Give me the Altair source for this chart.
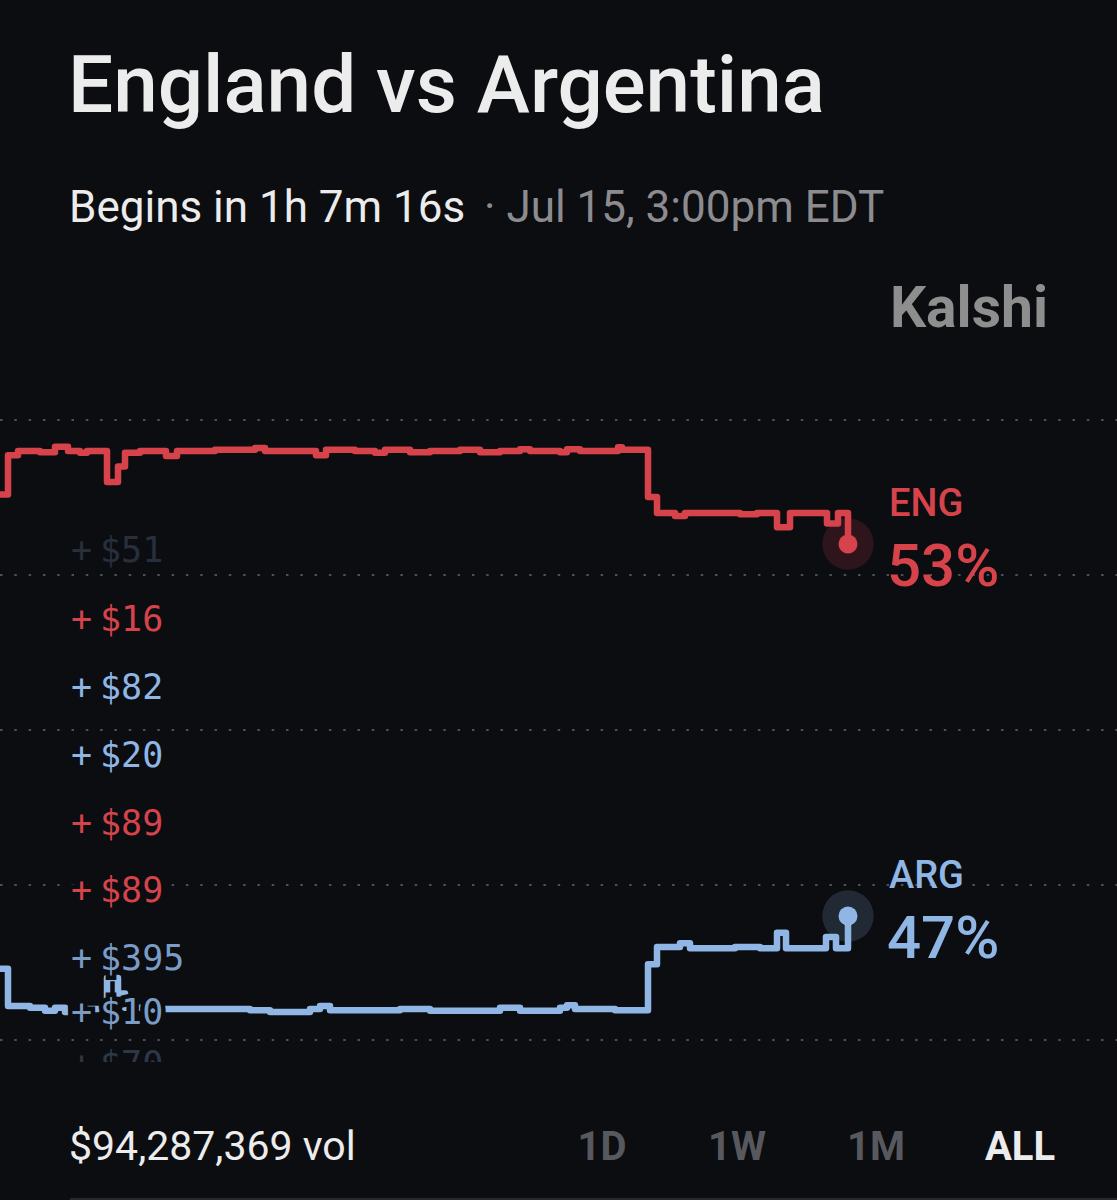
import altair as alt
import pandas as pd

# ---------------------------------------------------------------- data
teams = ["ENG", "ARG"]

# hours since the market opened -> implied win probability (%)
eng_hours = [0, 8, 18, 40, 55, 68, 80, 87, 107, 118, 125, 140, 166, 177, 215,
             255, 265, 305, 316, 326, 355, 375, 385, 410, 430, 460, 480, 500,
             520, 530, 560, 567, 580, 618, 622, 648, 657, 675, 685, 740, 757,
             777, 790, 827, 838, 848]
eng_pct = [53.8, 54.43, 54.5, 54.48, 54.57, 54.5, 54.47, 54.5, 54.0, 54.25,
           54.47, 54.5, 54.42, 54.5, 54.52, 54.55, 54.5, 54.5, 54.43, 54.52,
           54.5, 54.47, 54.52, 54.48, 54.5, 54.52, 54.48, 54.5, 54.53, 54.5,
           54.48, 54.53, 54.5, 54.56, 54.52, 53.76, 53.5, 53.45, 53.5, 53.48,
           53.5, 53.27, 53.5, 53.33, 53.5, 53.0]

arg_hours = [0, 8, 30, 45, 55, 65, 80, 107, 118, 125, 160, 250, 270, 310, 320,
             330, 400, 430, 500, 520, 560, 567, 575, 615, 648, 657, 680, 690,
             735, 760, 777, 786, 826, 836, 848]
arg_pct = [46.15, 45.55, 45.52, 45.47, 45.52, 45.45, 45.5, 46.0, 45.75, 45.52,
           45.5, 45.48, 45.45, 45.5, 45.55, 45.48, 45.5, 45.47, 45.52, 45.47,
           45.52, 45.56, 45.5, 45.48, 46.22, 46.5, 46.56, 46.48, 46.5, 46.48,
           46.73, 46.48, 46.66, 46.48, 47.0]

grid_levels = [45.0, 47.5, 50.0, 52.5, 55.0]

# recent trades ticker
ticker_amounts = ["$51", "$16", "$82", "$20", "$89", "$89", "$395", "$10", "$70"]
ticker_sides = ["ARG", "ENG", "ARG", "ARG", "ENG", "ENG", "ARG", "ARG", "ARG"]

title = "England vs Argentina"
countdown = "Begins in 1h 7m 16s"
kickoff = "· Jul 15, 3:00pm EDT"
brand = "Kalshi"
volume = 94287369
ranges = ["1D", "1W", "1M", "ALL"]
active_range = "ALL"

# ---------------------------------------------------------------- style / layout
BG = "#0c0d11"
RED = "#d6434b"
BLUE = "#8fb6e4"
GRID = "#4d5157"
WHITE = "#ececec"
GREY = "#8c8c90"
DIM = "#58595e"
SANS = "Roboto, sans-serif"
MONO = "DejaVu Sans Mono, monospace"

PLOT_W, PLOT_H = 848, 620
TOP, LEFT, FULL_W, FULL_H = 420, 0, 1117, 1200


def py(page_y):
    """page pixel row -> plot-area pixel row"""
    return page_y - TOP


ticker_row_y = [551, 620, 688, 756, 824, 891, 959, 1013, 1065]
ticker_fade = [0.2, 1, 1, 1, 1, 1, 0.85, 0.85, 0.25]
range_x = [602, 737, 876, 1020]

# ---------------------------------------------------------------- frames
series = pd.concat([
    pd.DataFrame({"team": "ENG", "hours": eng_hours, "pct": eng_pct}),
    pd.DataFrame({"team": "ARG", "hours": arg_hours, "pct": arg_pct}),
], ignore_index=True)

last = pd.DataFrame({
    "team": teams,
    "hours": [eng_hours[-1], arg_hours[-1]],
    "pct": [eng_pct[-1], arg_pct[-1]],
})
last["label"] = last["pct"].round().astype(int).astype(str) + "%"

grid = pd.DataFrame({"pct": grid_levels})

x_enc = alt.X("hours:Q", axis=None,
              scale=alt.Scale(domain=[eng_hours[0], eng_hours[-1]], nice=False, zero=False))
y_scale = alt.Scale(domain=[grid_levels[0], grid_levels[-1]], nice=False, zero=False)
y_enc = alt.Y("pct:Q", axis=None, scale=y_scale)
color_enc = alt.Color("team:N", legend=None,
                      scale=alt.Scale(domain=teams, range=[RED, BLUE]))

# ---------------------------------------------------------------- layers
gridlines = alt.Chart(grid).mark_rule(
    strokeDash=[2.5, 11.8], strokeWidth=2.2, color=GRID
).encode(y=y_enc, x=alt.value(0), x2=alt.value(FULL_W))

lines = alt.Chart(series).mark_line(
    interpolate="step-after", strokeWidth=6.5, strokeJoin="round", strokeCap="round"
).encode(x=x_enc, y=y_enc, color=color_enc, detail="team:N")

halo = alt.Chart(last).mark_circle(size=2640, opacity=0.17).encode(
    x=x_enc, y=y_enc, color=color_enc)
dots = alt.Chart(last).mark_circle(size=360, opacity=1).encode(
    x=x_enc, y=y_enc, color=color_enc)

end_code = alt.Chart(last).mark_text(
    font=SANS, fontSize=38, fontWeight=500, align="left", baseline="alphabetic", dy=-28
).encode(x=alt.value(889), y=y_enc, text="team:N", color=color_enc)
end_pct = alt.Chart(last).mark_text(
    font=SANS, fontSize=60, fontWeight=500, align="left", baseline="alphabetic", dy=42
).encode(x=alt.value(887), y=y_enc, text="label:N", color=color_enc)


def label(text, x, page_y, **kw):
    return alt.Chart(pd.DataFrame({"text": [text]})).mark_text(
        baseline="alphabetic", **kw
    ).encode(x=alt.value(x), y=alt.value(py(page_y)), text="text:N")


side_color = {"ENG": RED, "ARG": BLUE}
ticker_layers = []
for amt, side, row_y, fade in zip(ticker_amounts, ticker_sides, ticker_row_y, ticker_fade):
    for txt, x in (("+", 71), (amt, 100)):
        ticker_layers.append(alt.Chart(pd.DataFrame({"text": [txt]})).mark_text(
            font=MONO, fontSize=35, align="left", baseline="middle",
            fill=BG, stroke=BG, strokeWidth=9
        ).encode(x=alt.value(x), y=alt.value(py(row_y)), text="text:N"))
        ticker_layers.append(alt.Chart(pd.DataFrame({"text": [txt]})).mark_text(
            font=MONO, fontSize=35, align="left", baseline="middle",
            color=side_color[side], opacity=fade
        ).encode(x=alt.value(x), y=alt.value(py(row_y)), text="text:N"))

# the ticker scrolls out of view at the bottom of the chart area
ticker_mask = alt.Chart(pd.DataFrame({"k": [0]})).mark_rect(color=BG).encode(
    x=alt.value(55), x2=alt.value(230), y=alt.value(py(1062)), y2=alt.value(py(1095)))

texts = [
    label(title, 68, 112, font=SANS, fontSize=80, fontWeight=500, color=WHITE, align="left"),
    label(countdown, 69, 222, font=SANS, fontSize=44, color=WHITE, align="left"),
    label(kickoff, 484, 222, font=SANS, fontSize=44, color=GREY, align="left"),
    label(brand, 1048, 327, font=SANS, fontSize=57, fontWeight="bold", color="#8e8e8e", align="right"),
    label(f"${volume:,} vol", 69, 1160, font=SANS, fontSize=41, color=WHITE, align="left"),
]
for r, x in zip(ranges, range_x):
    texts.append(label(r, x, 1160, font=SANS, fontSize=40, fontWeight="bold",
                       color=WHITE if r == active_range else DIM, align="center"))

separator = alt.Chart(pd.DataFrame({"k": [0]})).mark_rule(color="#26282d", strokeWidth=2).encode(
    x=alt.value(70), x2=alt.value(FULL_W), y=alt.value(py(1199)))

chart = alt.layer(
    gridlines, lines, halo, dots, *ticker_layers, ticker_mask, end_code, end_pct,
    *texts, separator
).properties(
    width=PLOT_W, height=PLOT_H,
    padding={"left": LEFT, "top": TOP, "right": FULL_W - PLOT_W - LEFT,
             "bottom": FULL_H - PLOT_H - TOP},
    autosize=alt.AutoSizeParams(type="none"),
    background=BG,
).configure_view(stroke=None)

chart.save("out.html", embed_options={"renderer": "svg", "actions": False})
